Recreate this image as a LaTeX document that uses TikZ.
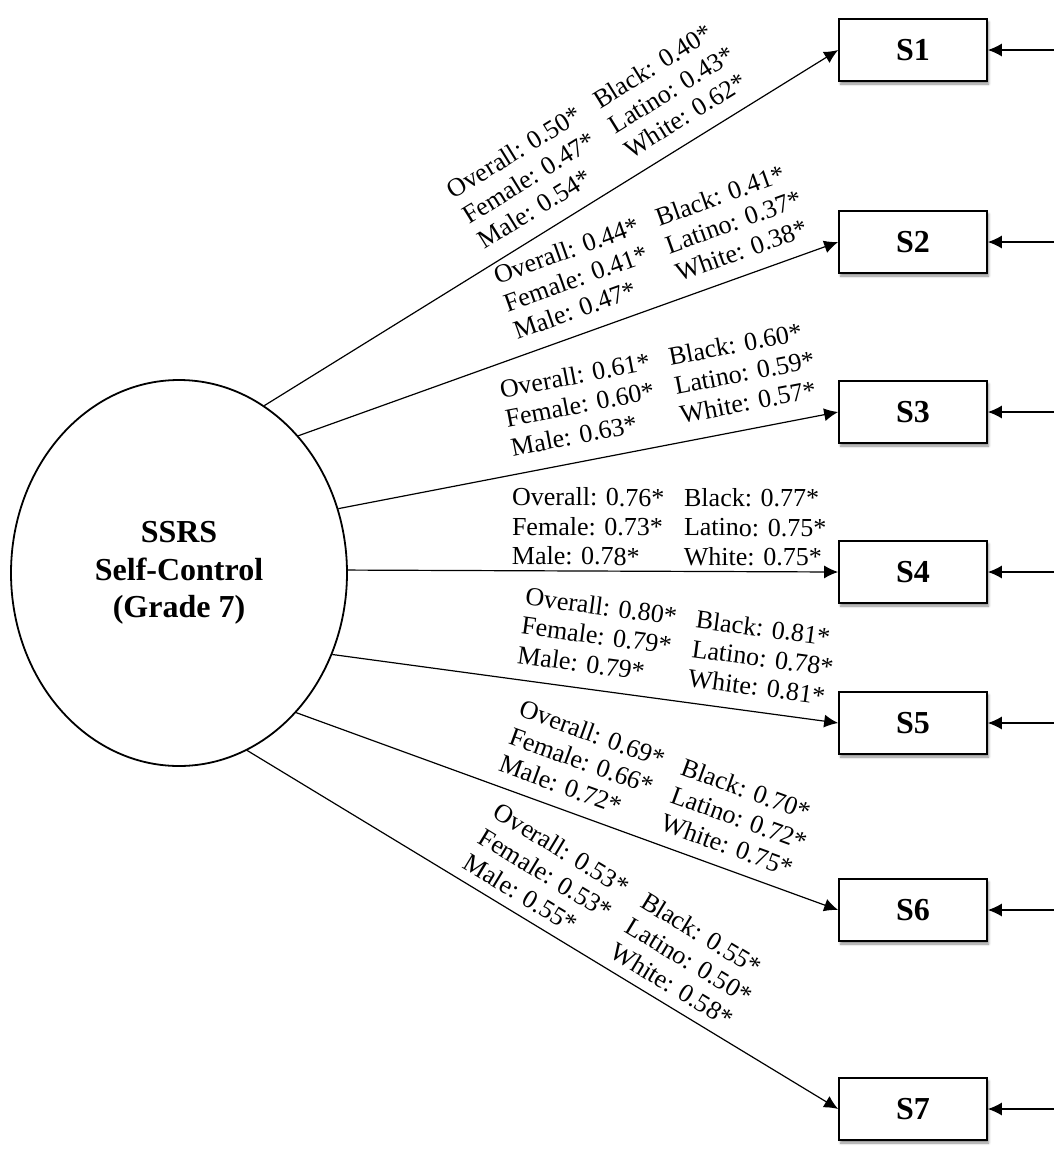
\documentclass[tikz,border=0pt]{standalone}
\usepackage{fontspec}
\setmainfont{Liberation Serif}
\usetikzlibrary{shapes.geometric}
\usetikzlibrary{arrows.meta}
\usetikzlibrary{shadows.blur}

\newcommand{\loadings}[6]{%
  \begin{tabular}{@{}p{86pt}@{}l@{}}
    Overall: #1* & Black: #4*\\
    Female: #2*  & Latino: #5*\\
    Male: #3*    & White: #6*
  \end{tabular}}

\begin{document}
\begin{tikzpicture}[x=0.5pt,y=-0.5pt,
    item/.style={draw, line width=0.85pt, fill=white, minimum width=74pt, minimum height=31pt,
      inner sep=0pt, font=\fontsize{16}{18}\selectfont\bfseries,
      blur shadow={shadow xshift=0.8pt, shadow yshift=-1.5pt, shadow blur radius=1.2pt, shadow opacity=45}},
    load/.style={->, line width=0.6pt},
    lbl/.style={sloped, above, font=\fontsize{13}{14.75}\selectfont},
    >={Latex[length=7pt,width=6.5pt]}]

    \useasboundingbox (0,0) rectangle (1054,1153);

    % Factor
    \node[draw, ellipse, line width=0.9pt, minimum width=168pt, minimum height=193pt, inner sep=0pt,
      align=center, font=\fontsize{16}{18.75}\selectfont\bfseries] (sc) at (179,573)
      {SSRS\\Self-Control\\(Grade 7)};

    % Items
    \node[item] (s1) at (913,50) {S1};
    \node[item] (s2) at (913,242) {S2};
    \node[item] (s3) at (913,412) {S3};
    \node[item] (s4) at (913,572) {S4};
    \node[item] (s5) at (913,723) {S5};
    \node[item] (s6) at (913,910) {S6};
    \node[item] (s7) at (913,1109) {S7};

    % Errors
    \coordinate (e1) at (1054,50);
    \coordinate (e2) at (1054,242);
    \coordinate (e3) at (1054,412);
    \coordinate (e4) at (1054,572);
    \coordinate (e5) at (1054,723);
    \coordinate (e6) at (1054,910);
    \coordinate (e7) at (1054,1109);
    \draw[load] (e1) -- (s1.east);
    \draw[load] (e2) -- (s2.east);
    \draw[load] (e3) -- (s3.east);
    \draw[load] (e4) -- (s4.east);
    \draw[load] (e5) -- (s5.east);
    \draw[load] (e6) -- (s6.east);
    \draw[load] (e7) -- (s7.east);

    % Loadings
    \draw[load] (sc.63) -- node[lbl, pos=0.632]
      {\loadings{0.50}{0.47}{0.54}{0.40}{0.43}{0.62}} (s1.west);
    \draw[load] (sc.49) -- node[lbl, pos=0.69]
      {\loadings{0.44}{0.41}{0.47}{0.41}{0.37}{0.38}} (s2.west);
    \draw[load] (sc.22) -- node[lbl, pos=0.665, above=1pt]
      {\loadings{0.61}{0.60}{0.63}{0.60}{0.59}{0.57}} (s3.west);
    \draw[load] (sc.1) -- node[lbl, pos=0.655, above=-5pt]
      {\loadings{0.76}{0.73}{0.78}{0.77}{0.75}{0.75}} (s4.west);
    \draw[load] (sc.-28) -- node[lbl, pos=0.668]
      {\loadings{0.80}{0.79}{0.79}{0.81}{0.78}{0.81}} (s5.west);
    \draw[load] (sc.-50) -- node[lbl, pos=0.635, above=-1pt]
      {\loadings{0.69}{0.66}{0.72}{0.70}{0.72}{0.75}} (s6.west);
    \draw[load] (sc.-69) -- node[lbl, pos=0.58, above=-2.5pt]
      {\loadings{0.53}{0.53}{0.55}{0.55}{0.50}{0.58}} (s7.west);
\end{tikzpicture}
\end{document}
